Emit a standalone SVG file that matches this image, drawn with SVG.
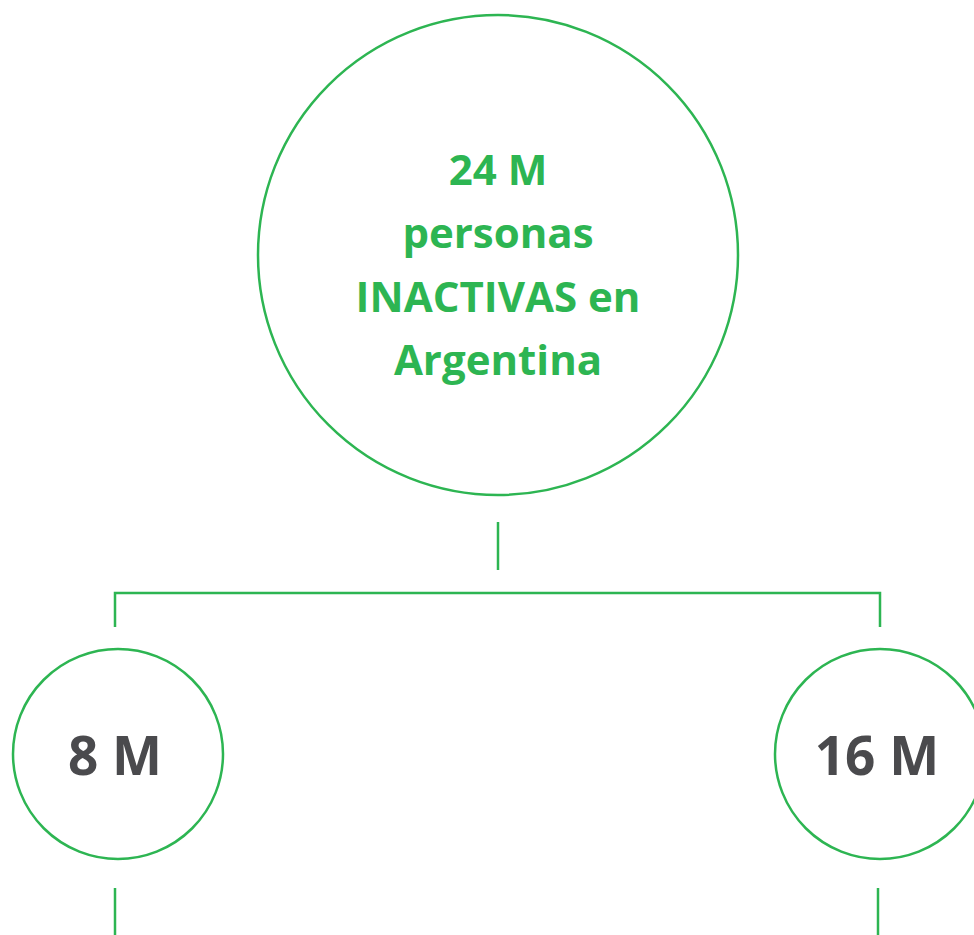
<svg xmlns="http://www.w3.org/2000/svg" width="974" height="935" viewBox="0 0 974 935">
<style>
.c{fill:none;stroke:#2db552;stroke-width:2.5}
.l{fill:none;stroke:#2db552;stroke-width:2.5}
.t{font-family:"Open Sans","Noto Sans",sans-serif;font-weight:700;text-anchor:middle}
.g{fill:#2db552;font-size:42px}
.d{fill:#4a4a4d;font-size:53px}
</style>
<rect width="974" height="935" fill="#fff"/>
<g id="connectors">
<path class="l" d="M498 522V570"/>
<path class="l" d="M115 627V593H880V627"/>
<path class="l" d="M115 888V935"/>
<path class="l" d="M878 888V935"/>
</g>
<g id="total">
<circle class="c" cx="498" cy="255" r="240"/>
<text class="t g" x="498" y="185">24 M</text>
<text class="t g" x="498" y="248">personas</text>
<text class="t g" x="498" y="312">INACTIVAS en</text>
<text class="t g" x="498" y="375">Argentina</text>
</g>
<g id="left">
<circle class="c" cx="118" cy="754" r="105"/>
<text class="t d" x="115" y="775">8 M</text>
</g>
<g id="right">
<circle class="c" cx="880" cy="754" r="105"/>
<text class="t d" x="877" y="775">16 M</text>
</g>
</svg>
